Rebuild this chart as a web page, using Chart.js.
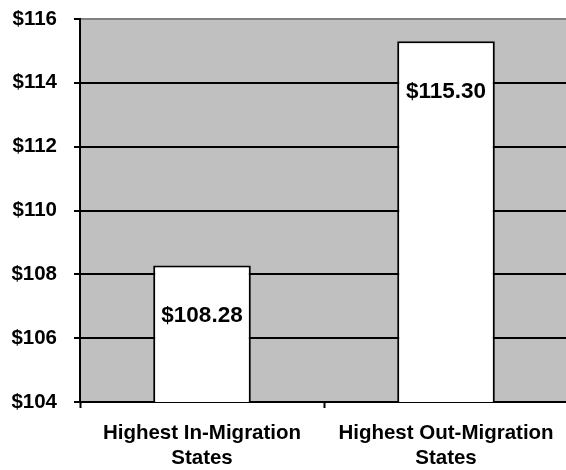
<!DOCTYPE html>
<html>
<head>
<meta charset="utf-8">
<script src="https://cdn.jsdelivr.net/npm/chart.js@4/dist/chart.umd.min.js"></script>
<style>
  html, body { margin: 0; padding: 0; background: #fff; overflow: hidden; }
  #wrap { width: 568px; height: 470px; }
</style>
</head>
<body>
<div id="wrap"><canvas id="chart" width="568" height="470"></canvas></div>
<script>
const groups = [['Highest In-Migration', 'States'], ['Highest Out-Migration', 'States']];
const prices = [108.28, 115.30];
const yMin = 104;
const yMax = 116;
const yStep = 2;

const font = 'Arial, "Liberation Sans", sans-serif';

// gray plot background behind the bars
const plotBackground = {
  id: 'plotBackground',
  beforeDraw(chart) {
    const { ctx, chartArea: a } = chart;
    ctx.save();
    ctx.fillStyle = '#C0C0C0';
    ctx.fillRect(a.left, a.top, a.right - a.left, a.bottom - a.top);
    ctx.restore();
  }
};

// dollar value written inside each bar, near its top
const barValues = {
  id: 'barValues',
  afterDatasetsDraw(chart) {
    const { ctx } = chart;
    const meta = chart.getDatasetMeta(0);
    ctx.save();
    ctx.font = 'bold 22.5px ' + font;
    ctx.fillStyle = '#000';
    ctx.textAlign = 'center';
    ctx.textBaseline = 'middle';
    meta.data.forEach((bar, i) => {
      ctx.fillText('$' + prices[i].toFixed(2), bar.x, bar.y + 50);
    });
    ctx.restore();
  }
};

new Chart(document.getElementById('chart'), {
  type: 'bar',
  data: {
    labels: groups,
    datasets: [{
      data: prices,
      backgroundColor: '#FFFFFF',
      borderColor: '#000000',
      borderWidth: 2,
      borderSkipped: false,
      categoryPercentage: 1,
      barPercentage: 0.4
    }]
  },
  options: {
    responsive: false,
    animation: false,
    layout: { padding: { top: 19, right: 0, bottom: 0, left: 0 } },
    plugins: {
      legend: { display: false },
      tooltip: { enabled: false }
    },
    scales: {
      x: {
        grid: {
          offset: true,
          drawOnChartArea: false,
          drawTicks: true,
          tickLength: 6,
          tickWidth: 2,
          tickColor: '#000'
        },
        border: { color: '#000', width: 2 },
        ticks: {
          color: '#000',
          padding: 13,
          font: { family: font, size: 20.5, weight: 'bold', lineHeight: 1.2 }
        },
        afterFit(scale) {
          scale.height = 68;
          scale.paddingLeft = 0;
          scale.paddingRight = 0;
        }
      },
      y: {
        min: yMin,
        max: yMax,
        grid: {
          color: (c) => (c.tick && c.tick.value === yMax ? '#808080' : '#000'),
          lineWidth: 2,
          tickLength: 6,
          tickColor: '#000',
          tickWidth: 2
        },
        border: { color: '#000', width: 2 },
        ticks: {
          stepSize: yStep,
          color: '#000',
          padding: 17,
          font: { family: font, size: 20.5, weight: 'bold' },
          callback: (v) => '$' + v
        },
        afterFit(scale) {
          scale.width = 80;
          scale.paddingTop = 0;
          scale.paddingBottom = 0;
        }
      }
    }
  },
  plugins: [plotBackground, barValues]
});
</script>
</body>
</html>
